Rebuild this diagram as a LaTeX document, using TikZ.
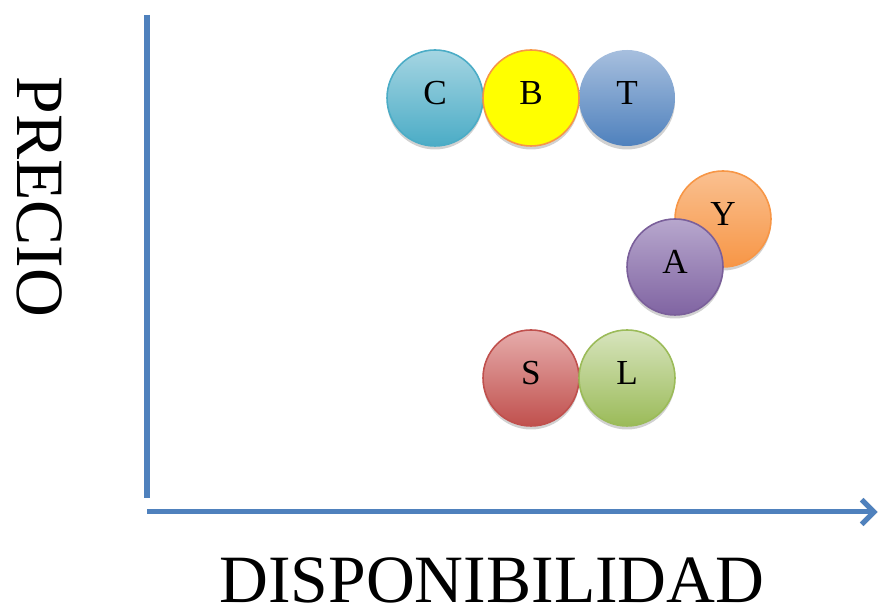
\documentclass[tikz,border=0pt]{standalone}
\usepackage{fontspec}
\setmainfont{Liberation Serif}
\usetikzlibrary{arrows.meta,shadows}

\definecolor{ejeazul}{HTML}{4F81BD}
\definecolor{cianclaro}{HTML}{A5D5E2}
\definecolor{cian}{HTML}{4BACC6}
\definecolor{azulclaro}{HTML}{A7BFDE}
\definecolor{azul}{HTML}{4F81BD}
\definecolor{amarillo}{HTML}{FFFF00}
\definecolor{naranjaclaro}{HTML}{FAC090}
\definecolor{naranja}{HTML}{F79646}
\definecolor{moradoclaro}{HTML}{B7A7CD}
\definecolor{morado}{HTML}{8064A2}
\definecolor{moradoborde}{HTML}{7A5F9A}
\definecolor{rojoclaro}{HTML}{E6ACAB}
\definecolor{rojo}{HTML}{C0504D}
\definecolor{verdeclaro}{HTML}{D7E4BD}
\definecolor{verde}{HTML}{9BBB59}

\begin{document}
\begin{tikzpicture}[scale=1.0]
\tikzset{ >=latex, inner sep=0pt, outer sep=0pt,
  bola/.style={circle, minimum size=1.92cm, line width=0.9pt,
    drop shadow={shadow xshift=0cm, shadow yshift=-0.07cm, opacity=0.3, fill=black!60}},
  letra/.style={font=\fontsize{20}{22}\selectfont, yshift=0.1cm},
  eje/.style={line width=2.85pt, ejeazul},
  ejesombra/.style={line width=2.85pt, black!18},
  titulo/.style={font=\fontsize{38.5}{40}\selectfont},
}

\useasboundingbox (0,0) rectangle (17.64,12.22);

%%% Ejes

\coordinate (ytop)   at (2.94,11.92);
\coordinate (ybot)   at (2.94,2.26);
\coordinate (xleft)  at (2.94,1.98);
\coordinate (xright) at (17.55,1.98);

% sombra
\draw [ejesombra, yshift=-0.07cm] (ytop) -- (ybot);
\draw [ejesombra, yshift=-0.07cm, -{Straight Barb[length=7pt,width=14pt]}] (xleft) -- (xright);

% precio
\draw [eje] (ytop) -- (ybot);
% disponibilidad
\draw [eje, -{Straight Barb[length=7pt,width=14pt]}] (xleft) -- (xright);

\node [titulo, rotate=-90] (precio) at (0.80,8.28) {PRECIO};
\node [titulo, anchor=base] (dispo) at (9.84,0.16) {DISPONIBILIDAD};

%%% Bolas

% fila de arriba
\node [bola, draw=cian, top color=cianclaro, bottom color=cian] (C) at (8.70,10.26) { };
\node [bola, draw=none, top color=azulclaro, bottom color=azul] (T) at (12.54,10.26) { };
\node [bola, draw=naranja, fill=amarillo] (B) at (10.62,10.26) { };
\node [letra] (Ct) at (C) {C};
\node [letra] (Bt) at (B) {B};
\node [letra] (Tt) at (T) {T};

% Y y A
\node [bola, draw=naranja, top color=naranjaclaro, bottom color=naranja] (Y) at (14.46,7.84) { };
\node [bola, draw=moradoborde, top color=moradoclaro, bottom color=morado] (A) at (13.50,6.88) { };
\node [letra] (Yt) at (Y) {Y};
\node [letra] (At) at (A) {A};

% fila de abajo
\node [bola, draw=rojo, top color=rojoclaro, bottom color=rojo] (S) at (10.62,4.66) { };
\node [bola, draw=verde, top color=verdeclaro, bottom color=verde] (L) at (12.54,4.66) { };
\node [letra] (St) at (S) {S};
\node [letra] (Lt) at (L) {L};

\end{tikzpicture}
\end{document}
